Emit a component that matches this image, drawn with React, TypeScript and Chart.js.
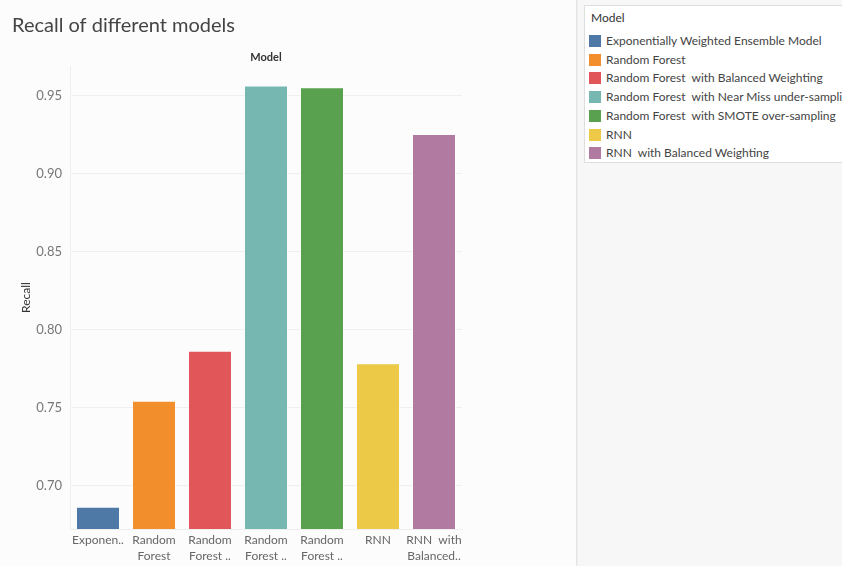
import React, { useEffect, useRef } from "react";
import { Chart, registerables } from "chart.js";

Chart.register(...registerables);

const chartTitle = "Recall of different models";
const legendTitle = "Model";
const yAxisTitle = "Recall";
const categories = [
  "Exponentially Weighted Ensemble Model",
  "Random Forest",
  "Random Forest  with Balanced Weighting",
  "Random Forest  with Near Miss under-sampling",
  "Random Forest  with SMOTE over-sampling",
  "RNN",
  "RNN  with Balanced Weighting",
];
const tickLabels = [
  ["Exponen.."],
  ["Random", "Forest"],
  ["Random", "Forest .."],
  ["Random", "Forest .."],
  ["Random", "Forest .."],
  ["RNN"],
  ["RNN  with", "Balanced.."],
];
const recall = [0.686, 0.754, 0.786, 0.956, 0.955, 0.778, 0.925];
const colors = ["#4e79a7", "#f28e2b", "#e15759", "#76b7b2", "#59a14f", "#edc948", "#b07aa1"];
const yTicks = [0.7, 0.75, 0.8, 0.85, 0.9, 0.95];
const yMin = 0.6724;
const yMax = 0.9692;

const FONT = "Lato, 'Open Sans', sans-serif";

export default function App() {
  const ref = useRef<HTMLCanvasElement | null>(null);

  useEffect(() => {
    if (!ref.current) return;
    const chart = new Chart(ref.current, {
      type: "bar",
      data: {
        labels: categories,
        datasets: [
          {
            label: "Recall",
            data: recall,
            backgroundColor: colors,
            borderWidth: 0,
            categoryPercentage: 1,
            barPercentage: 0.75,
          },
        ],
      },
      options: {
        animation: false,
        responsive: false,
        maintainAspectRatio: false,
        layout: { padding: { left: 12, right: 114, top: 0, bottom: 0 } },
        plugins: {
          legend: { display: false },
          tooltip: { enabled: false },
          title: {
            display: true,
            text: chartTitle,
            align: "start",
            color: "#444",
            font: { family: FONT, size: 20, weight: "normal" },
            padding: { top: 14, bottom: 10 },
          },
          subtitle: {
            display: true,
            text: legendTitle,
            fullSize: false,
            align: "center",
            color: "#333",
            font: { family: FONT, size: 11, weight: "bold" },
            padding: { top: 2.4, bottom: 2.4 },
          },
        },
        scales: {
          x: {
            afterFit: (axis: any) => {
              axis.height = 37;
            },
            grid: { display: false, drawTicks: false },
            border: { display: true, color: "#efefef" },
            ticks: {
              color: "#666",
              font: { family: FONT, size: 12, lineHeight: 16 / 12 },
              padding: 3,
              maxRotation: 0,
              autoSkip: false,
              callback: (_v: any, i: number) => tickLabels[i],
            },
          },
          y: {
            min: yMin,
            max: yMax,
            afterFit: (axis: any) => {
              axis.width = 58;
            },
            afterBuildTicks: (axis: any) => {
              axis.ticks = yTicks.map((v) => ({ value: v }));
            },
            grid: { color: "#f0f0f0", drawTicks: false },
            border: { display: true, color: "#efefef" },
            ticks: {
              color: "#777",
              font: { family: FONT, size: 13 },
              padding: 8,
              callback: (v: any) => Number(v).toFixed(2),
            },
            title: {
              display: true,
              text: yAxisTitle,
              color: "#333",
              font: { family: FONT, size: 12 },
              padding: { top: 7, bottom: 4 },
            },
          },
        },
      },
    });
    return () => chart.destroy();
  }, []);

  return (
    <div
      style={{
        position: "absolute",
        left: 0,
        top: 0,
        width: 842,
        height: 566,
        overflow: "hidden",
        background: "#fcfcfc",
        fontFamily: FONT,
      }}
    >
      <canvas ref={ref} width={576} height={566} style={{ position: "absolute", left: 0, top: 0 }} />
      <div
        style={{
          position: "absolute",
          left: 576,
          top: 0,
          width: 266,
          height: 566,
          background: "#f7f7f7",
          borderLeft: "1px solid #e4e4e4",
          boxShadow: "inset 1px 0 0 #f0f0f0",
        }}
      >
        <div
          style={{
            position: "absolute",
            left: 7,
            top: 5,
            width: 300,
            height: 156,
            background: "#ffffff",
            border: "1px solid #dedede",
            overflow: "hidden",
          }}
        >
          <div
            style={{
              position: "absolute",
              left: 6,
              top: 4,
              fontSize: 12,
              color: "#333",
              lineHeight: "16px",
            }}
          >
            {legendTitle}
          </div>
          {categories.map((c, i) => (
            <div
              key={c}
              style={{
                position: "absolute",
                left: 4,
                top: 28 + i * 18.7,
                height: 14,
                display: "flex",
                alignItems: "center",
                whiteSpace: "pre",
              }}
            >
              <div style={{ width: 12, height: 12, background: colors[i], marginRight: 5 }} />
              <span style={{ fontSize: 12, color: "#444", lineHeight: "14px" }}>{c}</span>
            </div>
          ))}
        </div>
      </div>
    </div>
  );
}
